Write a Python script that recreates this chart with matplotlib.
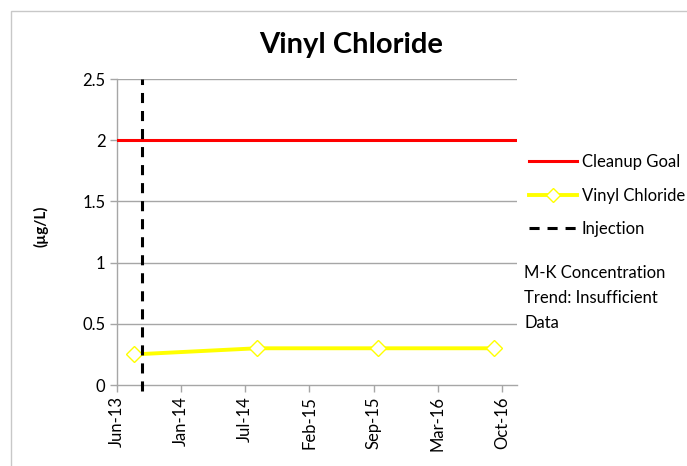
import matplotlib
matplotlib.use("Agg")
import matplotlib.pyplot as plt
import matplotlib.dates as mdates
from matplotlib.patches import Rectangle
from matplotlib.lines import Line2D
import datetime as dt

plt.rcParams['font.family'] = ['Lato', 'DejaVu Sans']

# Sampling results
sample_dates = ["2013-08-05", "2014-08-31", "2015-09-21", "2016-09-25"]
vinyl_chloride = [0.25, 0.3, 0.3, 0.3]
cleanup_goal = 2.0
injection_date = "2013-08-30"

# Axis setup
x_tick_dates = ["2013-06-10", "2014-01-01", "2014-07-25", "2015-02-15",
                "2015-09-08", "2016-03-31", "2016-10-22"]
x_tick_labels = ["Jun-13", "Jan-14", "Jul-14", "Feb-15", "Sep-15", "Mar-16", "Oct-16"]
x_end_date = "2016-12-08"
y_ticks = [0, 0.5, 1, 1.5, 2, 2.5]
y_tick_labels = ["0", "0.5", "1", "1.5", "2", "2.5"]

note_lines = ["M-K Concentration", "Trend: Insufficient", "Data"]

to_num = lambda s: mdates.date2num(dt.datetime.strptime(s, "%Y-%m-%d"))

W, H = 687, 466
fig = plt.figure(figsize=(W / 100, H / 100), dpi=100)
fig.patch.set_facecolor("white")

# chart frame
fig.add_artist(Rectangle((11 / W, -0.1), 1.2, (H - 11) / H + 0.1,
                         transform=fig.transFigure, fill=False,
                         edgecolor="#c8c8c8", linewidth=1.0))

ax = fig.add_axes([116.7 / W, (H - 385) / H, 400 / W, 306 / H])

xs = [to_num(d) for d in sample_dates]
xt = [to_num(d) for d in x_tick_dates]

for y in y_ticks[1:]:
    ax.axhline(y, color="#a6a6a6", linewidth=1.0, zorder=1)

ax.axhline(cleanup_goal, color="#ff0000", linewidth=2.2, zorder=3)
ax.plot(xs, vinyl_chloride, color="#ffff00", linewidth=2.8, marker="D",
        markersize=8, markerfacecolor="white", markeredgecolor="#ffff00",
        markeredgewidth=1.0, zorder=4)
ax.axvline(to_num(injection_date), ymin=-0.02, ymax=1.0, clip_on=False,
           color="black", linewidth=2.2, dashes=(3.3, 2.6), zorder=5)

tick_font = {"family": "Lato", "size": 12}
ax.set_xlim(xt[0], to_num(x_end_date))
ax.set_ylim(0, 2.5)
ax.set_xticks(xt)
ax.set_xticklabels(x_tick_labels, rotation=90, fontdict=tick_font)
ax.set_yticks(y_ticks)
ax.set_yticklabels(y_tick_labels, fontdict=tick_font)
ax.tick_params(axis="both", length=5, color="#a6a6a6", width=1.0, pad=3)

for side in ("top", "right"):
    ax.spines[side].set_visible(False)
for side in ("left", "bottom"):
    ax.spines[side].set_color("#a6a6a6")
    ax.spines[side].set_linewidth(1.0)

fig.text(41 / W, 1 - 226 / H, "(µg/L)", fontsize=11, fontweight="bold",
         rotation=90, ha="center", va="center")

fig.text(351 / W, 1 - 45 / H, "Vinyl Chloride", fontsize=21, fontweight="bold",
         ha="center", va="center")

handles = [
    Line2D([], [], color="#ff0000", linewidth=2.2),
    Line2D([], [], color="#ffff00", linewidth=2.8, marker="D", markersize=7,
           markerfacecolor="white", markeredgecolor="#ffff00", markeredgewidth=1.0),
    Line2D([], [], color="black", linewidth=2.2, dashes=(3.3, 2.6)),
]
leg = fig.legend(handles, ["Cleanup Goal", "Vinyl Chloride", "Injection"],
                 loc="upper left", bbox_to_anchor=(529 / W, 1 - 154 / H),
                 frameon=False, handlelength=2.9,
                 handletextpad=0.25, labelspacing=1.05, borderaxespad=0,
                 borderpad=0, prop={"family": "Lato", "size": 12})

for i, line in enumerate(note_lines):
    fig.text(524 / W, 1 - (273 + 25 * i) / H, line, fontsize=12,
             fontfamily="Lato", ha="left", va="center")

fig.savefig("out.png", dpi=100)
